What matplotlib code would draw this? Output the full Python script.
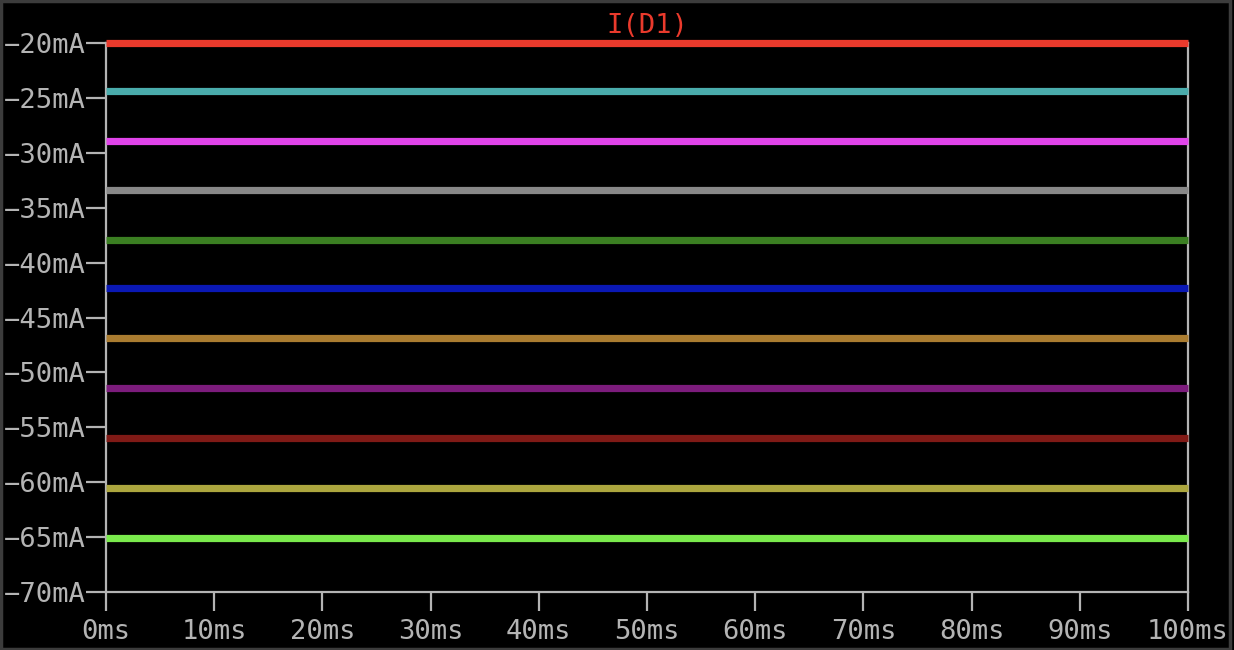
import matplotlib
matplotlib.use("Agg")
import matplotlib.pyplot as plt
from matplotlib.patches import Rectangle

time_ms = [0, 100]
levels_mA = [-20.0, -24.35, -28.9, -33.35, -37.9, -42.35, -46.9, -51.45, -56.0, -60.55, -65.1]
colors = ["#ea3a2c", "#4aacac", "#e044ea", "#888888", "#3b7f22", "#0a18b4",
          "#aa7c30", "#7c1c7c", "#801a16", "#aca63e", "#7aea4c"]
yticks = [-20, -25, -30, -35, -40, -45, -50, -55, -60, -65, -70]
ytick_labels = ["\u2212" + f"{abs(v)}mA" for v in yticks]
xticks = [0, 10, 20, 30, 40, 50, 60, 70, 80, 90, 100]
xtick_labels = [f"{v}ms" for v in xticks]
title = "I(D1)"

fg = "#b4b4b4"
fs = 19.5
plt.rcParams['font.family'] = ['DejaVu Sans Mono']

fig = plt.figure(figsize=(12.34, 6.50), dpi=100, facecolor="black")
ax = fig.add_axes([106/1234, 1-592/650, (1188-106)/1234, (592-43)/650])
ax.set_facecolor("black")

for v, c in zip(levels_mA, colors):
    ax.plot(time_ms, [v, v], color=c, lw=5.2, solid_capstyle="butt", zorder=3, clip_on=False)

ax.set_xlim(0, 100)
ax.set_ylim(-70, -20)
ax.set_xticks(xticks)
ax.set_xticklabels(xtick_labels)
ax.set_yticks(yticks)
ax.set_yticklabels(ytick_labels)
for s in ax.spines.values():
    s.set_color(fg)
    s.set_linewidth(1.6)
    s.set_zorder(2)
ax.tick_params(axis="both", colors=fg, labelcolor=fg, labelsize=fs, width=1.6)
ax.tick_params(axis="y", length=14.4, pad=0)
ax.tick_params(axis="x", length=13.5, pad=6)
ax.set_title(title, color="#ea3a2c", fontsize=fs, pad=7)

fig.patches.append(Rectangle((0.001, 0.002), 0.996, 0.996, transform=fig.transFigure,
                             fill=False, edgecolor="#3c3c3c", lw=2.5))

fig.savefig("out.png", dpi=100, facecolor="black")
